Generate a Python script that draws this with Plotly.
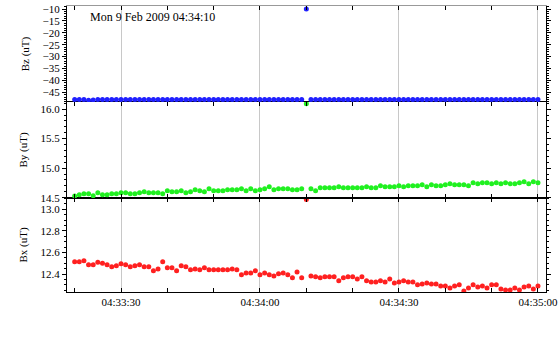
import pandas as pd
import plotly.graph_objects as go

# ---- data ----
start_time = "2009-02-09 04:33:20"
n_samples = 101  # 1-second cadence, 04:33:20 .. 04:35:00
times = pd.date_range(start_time, periods=n_samples, freq="1s")

bz = [-48.0, -48.0, -48.0, -48.3, -48.2, -48.0, -48.0, -48.0, -48.0, -48.0,
      -48.0, -48.0, -48.0, -48.0, -48.0, -48.0, -48.0, -48.0, -48.0, -48.0,
      -48.0, -48.0, -48.0, -48.0, -48.0, -48.0, -48.0, -48.0, -48.0, -48.0,
      -48.0, -48.0, -48.0, -48.0, -48.0, -48.0, -48.0, -48.0, -48.0, -48.0,
      -48.0, -48.0, -48.0, -48.0, -48.0, -48.0, -48.0, -48.0, -48.0, -48.0,
      -10.0, -48.0, -48.0, -48.0, -48.0, -48.0, -48.0, -48.0, -48.0, -48.0,
      -48.0, -48.0, -48.0, -48.0, -48.0, -48.0, -48.0, -48.0, -48.0, -48.0,
      -48.0, -48.0, -48.0, -48.0, -48.0, -48.0, -48.0, -48.0, -48.0, -48.0,
      -48.0, -48.0, -48.0, -48.0, -48.0, -48.0, -48.0, -48.0, -48.0, -48.0,
      -48.0, -48.0, -48.0, -48.0, -48.0, -48.0, -48.0, -48.0, -48.0, -48.0,
      -48.0]

by = [14.529, 14.551, 14.568, 14.568, 14.534, 14.585, 14.551, 14.551, 14.568, 14.568,
      14.585, 14.585, 14.568, 14.568, 14.585, 14.602, 14.585, 14.585, 14.585, 14.568,
      14.619, 14.602, 14.602, 14.619, 14.585, 14.602, 14.636, 14.619, 14.602, 14.653,
      14.619, 14.619, 14.619, 14.636, 14.636, 14.636, 14.653, 14.619, 14.653, 14.619,
      14.636, 14.653, 14.686, 14.636, 14.653, 14.653, 14.653, 14.636, 14.636, 14.653,
      16.09, 14.653, 14.619, 14.669, 14.669, 14.669, 14.669, 14.686, 14.669, 14.669,
      14.669, 14.669, 14.669, 14.686, 14.669, 14.669, 14.703, 14.686, 14.686, 14.686,
      14.703, 14.686, 14.703, 14.703, 14.703, 14.72, 14.686, 14.72, 14.703, 14.703,
      14.72, 14.737, 14.72, 14.72, 14.72, 14.703, 14.754, 14.737, 14.754, 14.754,
      14.737, 14.754, 14.737, 14.754, 14.737, 14.737, 14.754, 14.771, 14.737, 14.771,
      14.754]

bx = [12.514, 12.514, 12.524, 12.487, 12.487, 12.511, 12.502, 12.487, 12.468, 12.477,
      12.496, 12.487, 12.468, 12.477, 12.487, 12.468, 12.468, 12.431, 12.449, 12.514,
      12.459, 12.459, 12.431, 12.477, 12.468, 12.44, 12.449, 12.44, 12.459, 12.44,
      12.44, 12.44, 12.44, 12.44, 12.449, 12.44, 12.394, 12.412, 12.412, 12.431,
      12.394, 12.412, 12.394, 12.384, 12.403, 12.412, 12.394, 12.366, 12.421, 12.366,
      13.09, 12.384, 12.375, 12.366, 12.375, 12.375, 12.375, 12.338, 12.366, 12.375,
      12.375, 12.356, 12.375, 12.338, 12.328, 12.328, 12.338, 12.328, 12.356, 12.319,
      12.328, 12.338, 12.328, 12.328, 12.301, 12.31, 12.319, 12.31, 12.31, 12.291,
      12.291, 12.273, 12.291, 12.301, 12.245, 12.273, 12.301, 12.282, 12.291, 12.273,
      12.301, 12.301, 12.263, 12.254, 12.254, 12.273, 12.254, 12.282, 12.291, 12.263,
      12.291]

y_titles = ["Bz (uT)", "By (uT)", "Bx (uT)"]
title_text = "Mon 9 Feb 2009 04:34:10"

# ---- figure ----
FONT = "Liberation Serif"
H = 340
W = 560
mt, mb, ml, mr = 6, 48, 67, 14
plot_h = H - mt - mb
d_bot = (0, 94 / plot_h)
d_mid = (94 / plot_h, 190 / plot_h)
d_top = (190 / plot_h, 1)

fig = go.Figure()
mk = dict(size=5, line=dict(width=0))
fig.add_trace(go.Scatter(x=times, y=bx, mode="markers", marker=dict(color="#ff2020", **mk),
                         xaxis="x", yaxis="y", showlegend=False))
fig.add_trace(go.Scatter(x=times, y=by, mode="markers", marker=dict(color="#20f020", **mk),
                         xaxis="x2", yaxis="y2", showlegend=False))
fig.add_trace(go.Scatter(x=times, y=bz, mode="markers", marker=dict(color="#2020ff", **mk),
                         xaxis="x3", yaxis="y3", showlegend=False))

xr = ["2009-02-09 04:33:18.345", "2009-02-09 04:35:01.73"]
xcommon = dict(
    type="date", range=xr, tick0="2009-02-09 04:33:00", dtick=30000, automargin=False,
    tickformat="%H:%M:%S", ticks="inside", ticklen=4, tickcolor="black",
    showgrid=True, gridcolor="#c8c8c8", gridwidth=1, zeroline=False,
    showline=True, linecolor="black", linewidth=1,
    minor=dict(dtick=10000, tick0="2009-02-09 04:33:00", ticks="inside", ticklen=4,
               tickcolor="black", showgrid=False),
    tickfont=dict(family=FONT, size=11, color="black"),
)

ycommon = dict(
    ticks="outside", ticklen=4, tickcolor="black", showline=True, linecolor="black",
    linewidth=1, mirror="ticks", showgrid=False, zeroline=False, automargin=False,
    tickfont=dict(family=FONT, size=11, color="black"),
    title_font=dict(family=FONT, size=11, color="black"),
)

fig.update_layout(
    width=W, height=H,
    margin=dict(l=ml, r=mr, t=mt, b=mb),
    paper_bgcolor="white", plot_bgcolor="white",
    xaxis=dict(anchor="y", domain=[0, 1], mirror="allticks", showticklabels=True, **xcommon),
    xaxis2=dict(anchor="y2", domain=[0, 1], matches="x", mirror="allticks",
                showticklabels=False, **xcommon),
    xaxis3=dict(anchor="y3", domain=[0, 1], matches="x", side="top", showticklabels=False,
                **{**xcommon, "linecolor": "#999999"}),
    yaxis=dict(anchor="x", domain=list(d_bot), range=[12.235, 13.105], dtick=0.2,
               tickformat=".1f", minor=dict(dtick=0.05, ticks="outside", ticklen=2, tickcolor="black"),
               title=dict(text=y_titles[2], standoff=10), **ycommon),
    yaxis2=dict(anchor="x2", domain=list(d_mid), range=[14.495, 16.12], dtick=0.5,
                tickformat=".1f", minor=dict(dtick=0.1, ticks="outside", ticklen=2, tickcolor="black"),
                title=dict(text=y_titles[1], standoff=10), **ycommon),
    yaxis3=dict(anchor="x3", domain=list(d_top), range=[-49.08, -8.74], dtick=5,
                minor=dict(dtick=1, ticks="outside", ticklen=2, tickcolor="black"),
                title=dict(text=y_titles[0], standoff=10), **ycommon),
    annotations=[dict(text=title_text, xref="paper", yref="paper", x=0.044,
                      y=(H - mb - 17) / plot_h, xanchor="left", yanchor="middle",
                      showarrow=False, font=dict(family=FONT, size=12, color="black"))],
)

fig.write_html("out.html",
               config={"displayModeBar": False},
               post_script="document.body.style.margin='0';document.body.style.overflow='hidden';")
